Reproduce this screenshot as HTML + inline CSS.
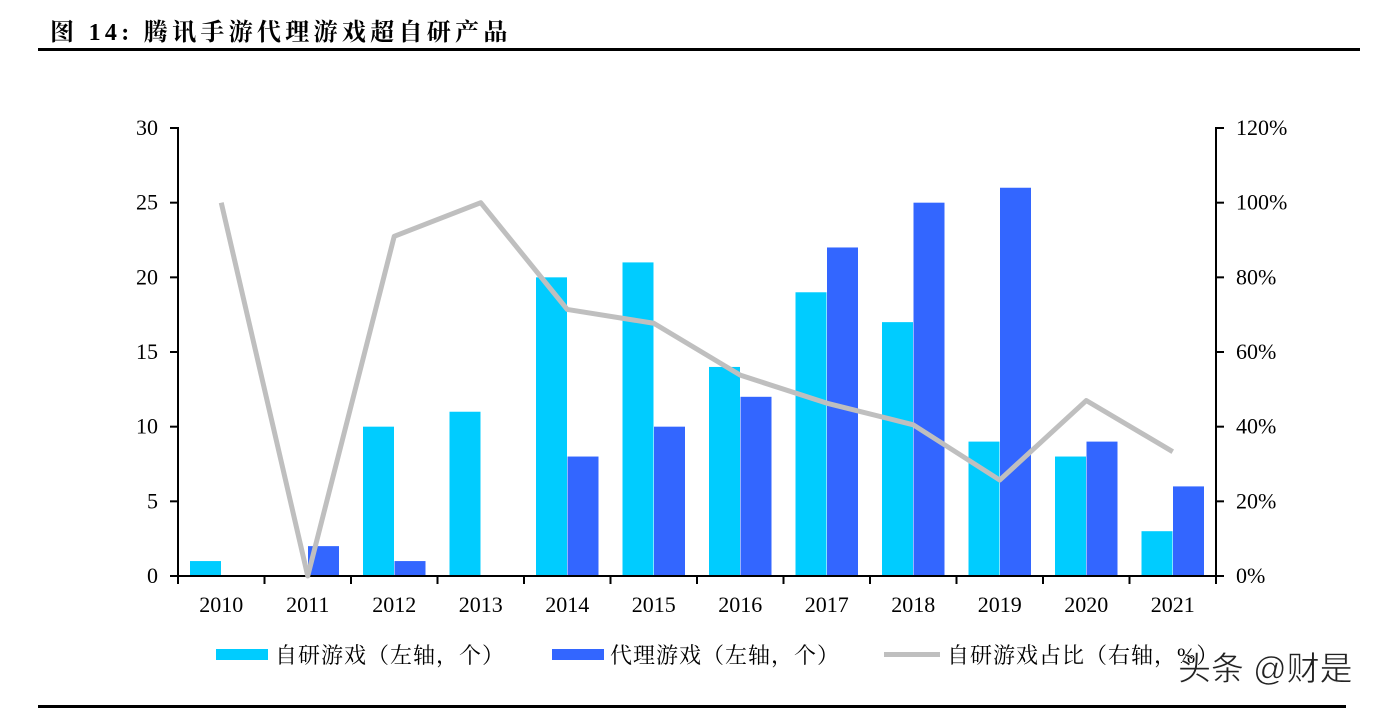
<!DOCTYPE html>
<html><head><meta charset="utf-8"><style>
body{margin:0;background:#fff;width:1377px;height:711px;overflow:hidden}
svg{display:block}
</style></head><body>
<svg width="1377" height="711" xmlns="http://www.w3.org/2000/svg">
<text x="50" y="40" font-family="Liberation Serif, Noto Serif CJK SC, serif" font-weight="bold" font-size="24" letter-spacing="4.3">图 14: 腾讯手游代理游戏超自研产品</text>
<rect x="38" y="48" width="1322" height="3" fill="#000"/>
<rect x="38" y="705" width="1308" height="3" fill="#000"/>
<g id="bars"></g>
<g id="ax" stroke="#000" stroke-width="2" fill="none"></g>
<polyline id="ln" fill="none" stroke="#bfbfbf" stroke-width="5" stroke-linejoin="round"/>
<g id="tx" font-family="Liberation Serif, serif" font-size="22" fill="#000"></g>
<g font-family="Liberation Serif, Noto Serif CJK SC, serif" font-size="22" fill="#000" letter-spacing="1">
<rect x="216" y="649" width="52" height="11" fill="#00ccff"/>
<text x="275" y="663">自研游戏（左轴，个）</text>
<rect x="552" y="649" width="52" height="11" fill="#3366ff"/>
<text x="610" y="663">代理游戏（左轴，个）</text>
<rect x="884" y="652" width="56" height="5" fill="#bfbfbf"/>
<text x="947" y="663">自研游戏占比（右轴，%）</text>
</g>
<text x="1178" y="680" font-family="Liberation Sans, Noto Sans CJK SC, sans-serif" font-size="33" fill="#222" stroke="#fff" stroke-width="0.6">头条 @财是</text>
</svg>
<script>
const NS="http://www.w3.org/2000/svg";
function el(p,t,a,txt){const e=document.createElementNS(NS,t);for(const k in a)e.setAttribute(k,a[k]);if(txt!=null)e.textContent=txt;document.getElementById(p).appendChild(e);return e;}
const c=[1,0,10,11,20,21,14,19,17,9,8,3],b=[0,2,1,0,8,10,12,22,25,26,9,6];
const p=[100,0,91,100,71.4,67.7,53.8,46.3,40.5,25.7,47,33.3];
const y=v=>576-v*14.933, yp=v=>576-v*3.7333, W=86.5;
let pts=[];
for(let i=0;i<12;i++){const L=178+W*i;
if(c[i])el("bars","rect",{x:L+12,y:y(c[i]),width:31,height:c[i]*14.933,fill:"#00ccff"});
if(b[i])el("bars","rect",{x:L+43.5,y:y(b[i]),width:31,height:b[i]*14.933,fill:"#3366ff"});
pts.push((L+43.25)+","+yp(p[i]));
el("tx","text",{x:L+43.25,y:612,"text-anchor":"middle"},String(2010+i));}
document.getElementById("ln").setAttribute("points",pts.join(" "));
el("ax","line",{x1:178,y1:127,x2:178,y2:576});
el("ax","line",{x1:1216,y1:127,x2:1216,y2:576});
el("ax","line",{x1:170,y1:576,x2:1224,y2:576});
for(let i=0;i<=12;i++){const x=178+W*i;el("ax","line",{x1:x,y1:576,x2:x,y2:584});}
for(let k=0;k<=6;k++){const yy=y(k*5);
el("ax","line",{x1:170,y1:yy,x2:178,y2:yy});el("ax","line",{x1:1216,y1:yy,x2:1224,y2:yy});
el("tx","text",{x:158,y:yy+7,"text-anchor":"end"},String(k*5));
el("tx","text",{x:1236,y:yy+7},(k*20)+"%");}
</script>
</body></html>
